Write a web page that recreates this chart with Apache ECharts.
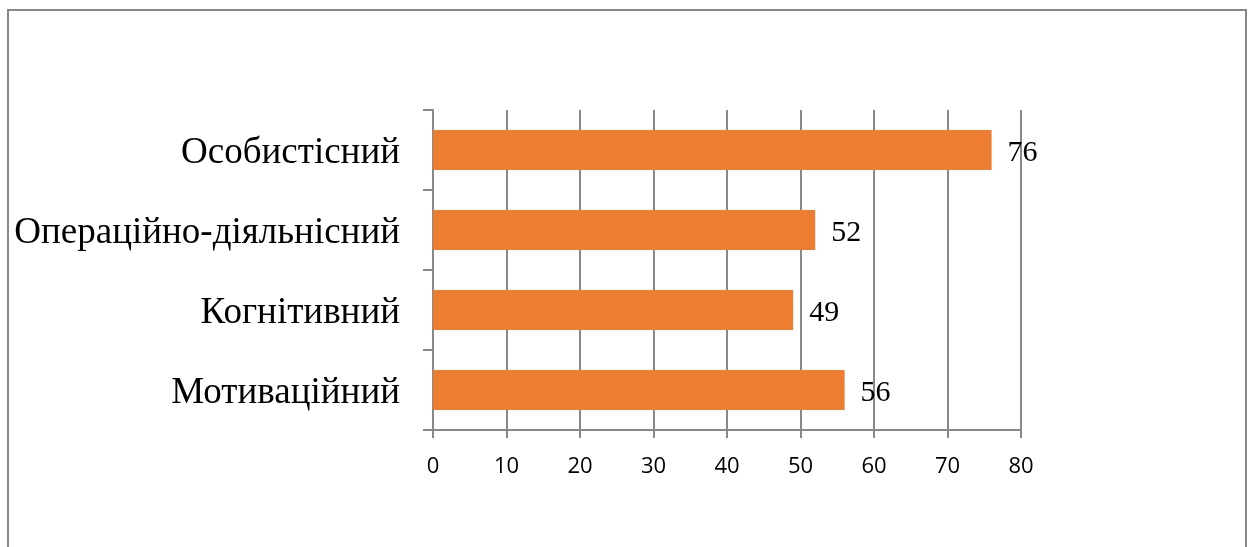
<!DOCTYPE html>
<html><head><meta charset="utf-8">
<script src="https://cdn.jsdelivr.net/npm/echarts@6/dist/echarts.min.js"></script>
<style>html,body{margin:0;padding:0;background:#fff}#c{width:1250px;height:547px}</style>
</head><body><div id="c"></div>
<script>
const categories = ["Мотиваційний", "Когнітивний", "Операційно-діяльнісний", "Особистісний"];
const values = [56, 49, 52, 76];
const ticks = [0, 10, 20, 30, 40, 50, 60, 70, 80];

const chart = echarts.init(document.getElementById('c'), null, {renderer: 'canvas'});
chart.setOption({
  animation: false,
  graphic: [{
    type: 'rect', silent: true, z: 100,
    shape: {x: 8, y: 10, width: 1238, height: 600},
    style: {fill: 'none', stroke: '#888888', lineWidth: 2}
  }],
  grid: {left: 433, right: 229, top: 110, bottom: 117, containLabel: false},
  xAxis: {
    type: 'value', min: ticks[0], max: ticks[ticks.length - 1], interval: 10,
    axisLine: {show: true, lineStyle: {color: '#898989', width: 2}},
    axisTick: {show: true, length: 8, lineStyle: {color: '#898989', width: 2}},
    splitLine: {show: true, lineStyle: {color: '#898989', width: 2}},
    axisLabel: {color: '#000', fontFamily: 'Open Sans', fontSize: 22, margin: 26}
  },
  yAxis: {
    type: 'category', data: categories,
    axisLine: {show: true, lineStyle: {color: '#898989', width: 2}},
    axisTick: {show: true, length: 10, lineStyle: {color: '#898989', width: 2}},
    axisLabel: {
      margin: 33,
      formatter: v => '{a|' + v + '}',
      rich: {a: {color: '#000', fontFamily: 'Liberation Serif', fontSize: 37, lineHeight: 37, padding: [6, 0, 0, 0]}}
    }
  },
  series: [{
    type: 'bar', data: values, barCategoryGap: '50%',
    itemStyle: {color: '#ED7D31'},
    label: {show: true, position: 'right', distance: 16, color: '#000',
            fontFamily: 'Liberation Serif', fontSize: 30, offset: [0, 3]}
  }]
});
</script></body></html>
